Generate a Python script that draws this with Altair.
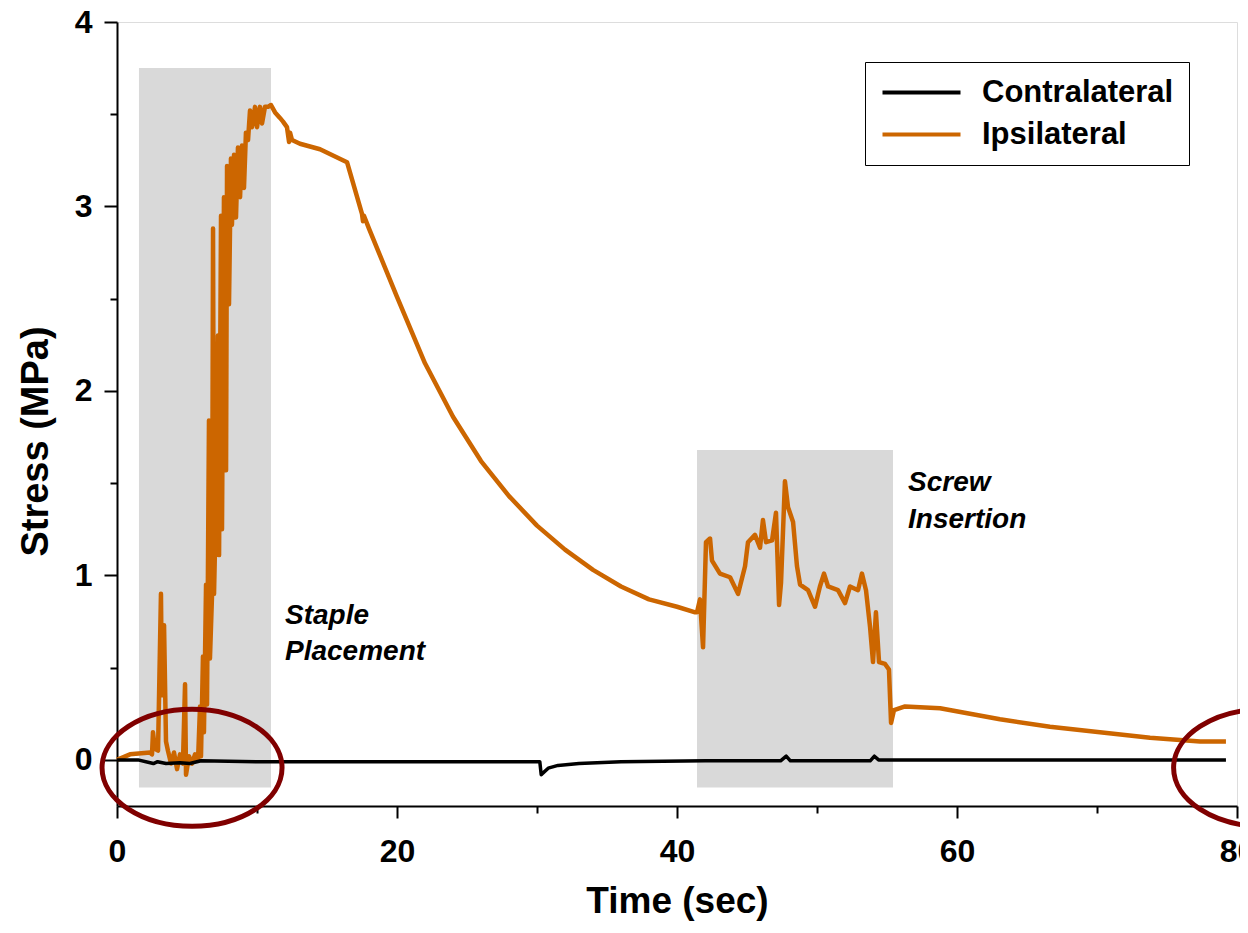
import altair as alt
import pandas as pd

# Ipsilateral stress (orange)
ipsi_t = [0.0, 0.93, 2.36, 2.5, 2.57, 2.71, 2.93, 3.14, 3.21, 3.36, 3.5, 3.64, 3.86, 4.07, 4.29, 4.5,
          4.71, 4.86, 4.93, 5.14, 5.36, 5.57, 5.79, 5.93, 6.0, 6.14, 6.21, 6.36, 6.43, 6.57, 6.64,
          6.79, 6.86, 6.93, 7.07, 7.21, 7.29, 7.43, 7.5, 7.64, 7.79, 7.86, 8.0, 8.14, 8.21, 8.36,
          8.5, 8.64, 8.79, 8.93, 9.07, 9.21, 9.36, 9.5, 9.64, 9.86, 10.0, 10.21, 10.36, 10.57,
          10.79, 11.0, 11.29, 11.64, 11.86, 12.14, 12.29, 12.36, 12.5, 13.07, 14.5, 16.43, 17.5,
          17.57, 17.64, 18.0, 20.0, 22.0, 24.0, 26.0, 28.0, 30.0, 32.0, 34.0, 36.0, 38.0, 40.0,
          41.3, 41.43, 41.64, 41.86, 42.07, 42.36, 42.5, 43.07, 43.79, 44.36, 44.86, 45.07, 45.57,
          45.93, 46.14, 46.36, 46.79, 47.07, 47.29, 47.43, 47.71, 47.93, 48.29, 48.57, 48.79,
          49.36, 49.86, 50.21, 50.5, 50.79, 51.5, 52.0, 52.36, 52.93, 53.21, 53.5, 53.79, 54.0,
          54.21, 54.43, 54.86, 55.14, 55.29, 55.5, 56.29, 58.79, 63.07, 66.64, 70.21, 73.79,
          77.36, 79.21]
ipsi_s = [0.0, 0.03, 0.04, 0.03, 0.15, 0.06, 0.05, 0.90, 0.35, 0.73, 0.10, 0.05, -0.02, 0.04,
          -0.05, 0.03, -0.02, 0.41, -0.08, 0.02, -0.02, 0.03, 0.0, 0.29, 0.02, 0.56, 0.15, 0.95,
          0.30, 1.84, 0.55, 0.90, 2.88, 0.90, 1.40, 2.30, 1.11, 2.95, 1.25, 3.05, 1.57, 3.22,
          2.47, 3.26, 2.90, 3.28, 2.94, 3.32, 3.05, 3.33, 3.10, 3.40, 3.36, 3.52, 3.43, 3.54,
          3.43, 3.54, 3.45, 3.54, 3.54, 3.55, 3.51, 3.48, 3.46, 3.43, 3.35, 3.40, 3.36, 3.34,
          3.31, 3.24, 2.96, 2.92, 2.95, 2.88, 2.51, 2.15, 1.86, 1.62, 1.43, 1.27, 1.14, 1.03,
          0.94, 0.87, 0.83, 0.80, 0.80, 0.87, 0.61, 1.18, 1.20, 1.08, 1.01, 0.99, 0.90, 1.05,
          1.18, 1.22, 1.15, 1.30, 1.18, 1.19, 1.34, 0.84, 0.96, 1.51, 1.37, 1.29, 1.05, 0.95,
          0.92, 0.83, 0.94, 1.01, 0.94, 0.92, 0.85, 0.94, 0.92, 1.01, 0.92, 0.72, 0.53, 0.80,
          0.53, 0.52, 0.49, 0.20, 0.27, 0.29, 0.28, 0.22, 0.18, 0.15, 0.12, 0.10, 0.10]

# Contralateral stress (black)
contra_t = [0.0, 1.5, 2.6, 2.9, 3.5, 4.5, 5.2, 6.0, 10.0, 20.0, 30.2, 30.3, 30.8, 31.5, 33.0,
            36.0, 42.0, 47.4, 47.8, 48.1, 53.8, 54.1, 54.4, 60.0, 79.21]
contra_s = [0.0, 0.0, -0.02, -0.01, -0.02, -0.015, -0.02, -0.005, -0.01, -0.01, -0.01, -0.08,
            -0.045, -0.03, -0.02, -0.01, -0.005, -0.005, 0.02, -0.005, -0.005, 0.02, 0.0, 0.0, 0.0]

series_names = ["Contralateral", "Ipsilateral"]
series_colors = ["#000000", "#cc6600"]

# Shaded phases
region_start = [1.57, 41.43]
region_end = [11.0, 55.43]
region_top = [3.75, 1.68]
region_bottom = [-0.15, -0.15]

# Annotations
ann_t = [12.0, 12.0, 56.5, 56.5]
ann_s = [0.78, 0.585, 1.50, 1.30]
ann_text = ["Staple", "Placement", "Screw", "Insertion"]

# Highlight ellipses
circle_t = [5.36, 81.9]
circle_s = [-0.043, -0.043]

x_ticks = [0, 10, 20, 30, 40, 50, 60, 70, 80]
y_ticks = [0, 0.5, 1, 1.5, 2, 2.5, 3, 3.5, 4]

FONT = "Liberation Sans"

ipsi_df = pd.DataFrame({"t": ipsi_t, "s": ipsi_s, "series": "Ipsilateral"})
contra_df = pd.DataFrame({"t": contra_t, "s": contra_s, "series": "Contralateral"})
region_df = pd.DataFrame({"x1": region_start, "x2": region_end, "y1": region_bottom, "y2": region_top})
ann_df = pd.DataFrame({"t": ann_t, "s": ann_s, "text": ann_text})
circ_df = pd.DataFrame({"t": circle_t, "s": circle_s})

xscale = alt.Scale(domain=[0, 80], nice=False, zero=False)
yscale = alt.Scale(domain=[-0.25, 4], nice=False, zero=False)

xaxis = alt.Axis(
    values=x_ticks, labelExpr="datum.value % 20 === 0 ? format(datum.value, 'd') : ''",
    tickSize={"condition": {"test": "datum.value % 20 === 0", "value": 12}, "value": 7},
    tickWidth=2, tickColor="black", domainColor="black", domainWidth=2, grid=False,
    labelFontSize=32, labelFontWeight="bold", labelColor="black", labelFont=FONT,
    labelPadding=18, labelFlush=False, labelOverlap=False,
    title="Time (sec)", titleFontSize=37, titleFontWeight="bold", titleColor="black",
    titleFont=FONT, titleY=95, titleBaseline="middle",
)
yaxis = alt.Axis(
    values=y_ticks, labelExpr="datum.value % 1 === 0 ? format(datum.value, 'd') : ''",
    tickSize={"condition": {"test": "datum.value % 1 === 0", "value": 13}, "value": 7},
    tickWidth=2, tickColor="black", domainColor="black", domainWidth=2, grid=False,
    labelFontSize=32, labelFontWeight="bold", labelColor="black", labelFont=FONT,
    labelPadding=12, labelFlush=False, labelOverlap=False,
    title="Stress (MPa)", titleFontSize=38, titleFontWeight="bold", titleColor="black",
    titleFont=FONT, titleX=-81, titleY=419, titleAngle=270, titleAlign="center",
    titleBaseline="middle",
)

color = alt.Color(
    "series:N",
    scale=alt.Scale(domain=series_names, range=series_colors),
    legend=alt.Legend(
        title=None, orient="none", legendX=748, legendY=40,
        symbolType="M -1 0 H 5", symbolSize=676, symbolStrokeWidth=4,
        labelFontSize=31, labelFontWeight="bold", labelColor="black", labelFont=FONT,
        labelOffset=71, labelLimit=400, rowPadding=10, padding=15,
        strokeColor="black", fillColor="white",
    ),
)

rects = alt.Chart(region_df).mark_rect(color="#d9d9d9").encode(
    x=alt.X("x1:Q", scale=xscale, axis=xaxis),
    x2="x2:Q",
    y=alt.Y("y1:Q", scale=yscale, axis=yaxis),
    y2="y2:Q",
)

ipsi = alt.Chart(ipsi_df).mark_line(strokeWidth=4.5, strokeJoin="round").encode(
    x=alt.X("t:Q", scale=xscale),
    y=alt.Y("s:Q", scale=yscale),
    color=color,
)

contra = alt.Chart(contra_df).mark_line(strokeWidth=3.5, strokeJoin="round").encode(
    x=alt.X("t:Q", scale=xscale),
    y=alt.Y("s:Q", scale=yscale),
    color=color,
)

texts = alt.Chart(ann_df).mark_text(
    font=FONT, fontSize=28, fontWeight="bold", fontStyle="italic",
    align="left", baseline="middle", color="black",
).encode(
    x=alt.X("t:Q", scale=xscale),
    y=alt.Y("s:Q", scale=yscale),
    text="text:N",
)

ellipses = alt.Chart(circ_df).mark_point(
    shape="M -1 0 A 1 0.65 0 1 1 1 0 A 1 0.65 0 1 1 -1 0 Z",
    size=32400, filled=False, stroke="#800000", strokeWidth=5, opacity=1,
).encode(
    x=alt.X("t:Q", scale=xscale),
    y=alt.Y("s:Q", scale=yscale),
)

chart = alt.layer(rects, ipsi, contra, texts, ellipses).properties(
    width=1120, height=784,
    autosize=alt.AutoSizeParams(type="none"),
    padding={"left": 109, "top": 14, "right": 3, "bottom": 116},
    background="white",
).configure_view(stroke="black", strokeWidth=2).configure(font=FONT)

chart.save("out.html", embed_options={"renderer": "svg", "actions": False})
